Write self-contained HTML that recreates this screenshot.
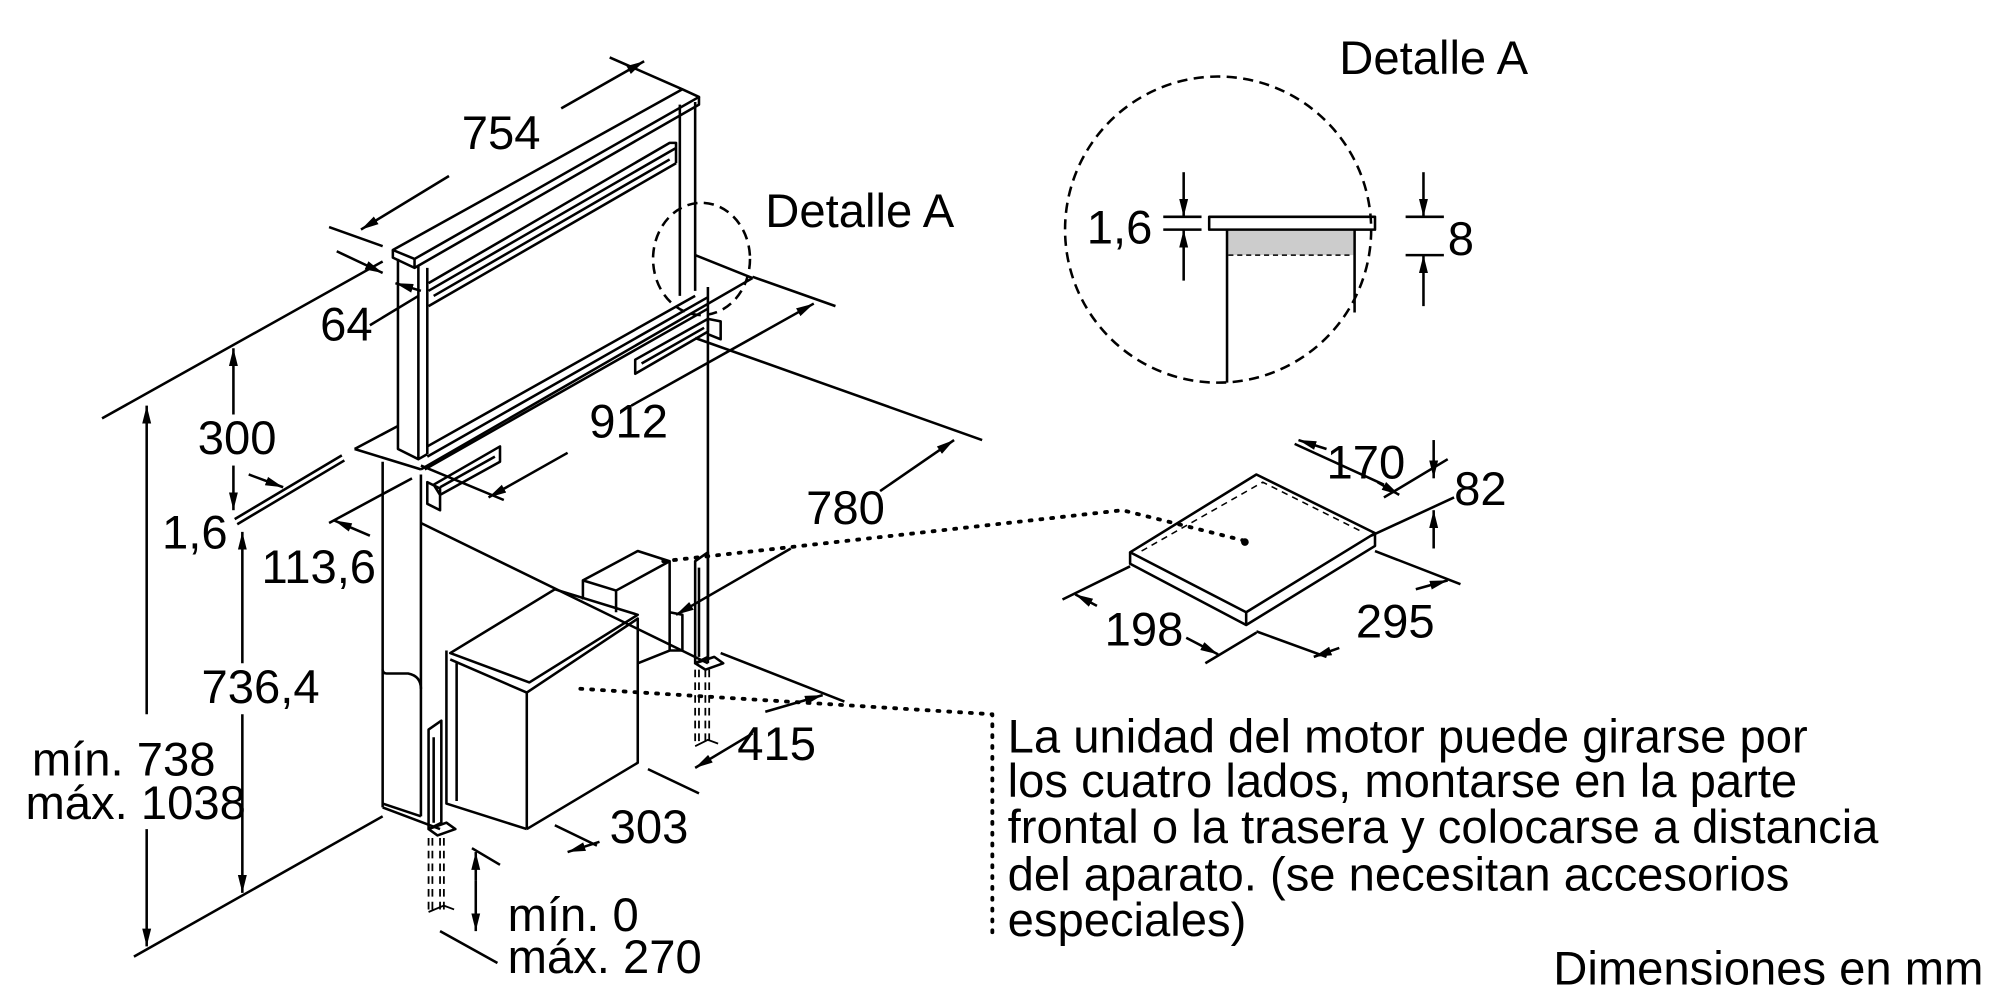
<!DOCTYPE html>
<html><head><meta charset="utf-8"><style>
html,body{margin:0;padding:0;background:#fff;}
svg{display:block}
text{font-family:"Liberation Sans",Arial,sans-serif;fill:#000}
</style></head><body>
<svg width="2000" height="1000" viewBox="0 0 1568 784" preserveAspectRatio="none" xmlns="http://www.w3.org/2000/svg">
<defs>
<marker id="a" viewBox="0 0 14 10" refX="14" refY="5" markerWidth="14" markerHeight="10" orient="auto-start-reverse" markerUnits="userSpaceOnUse"><path d="M0,1.5 L14,5 L0,8.5 z" fill="#000"/></marker>
</defs>
<g fill="none" stroke="#000" stroke-width="2" stroke-linejoin="round">
<!-- top cap -->
<path d="M308,196 L535,70 L548,76 L325,203 Z"/>
<path d="M308,196 L308,202 L325,210 L325,203 M325,210 L548,82 L548,76"/>
<!-- left post -->
<path d="M312,203 L312,352 L328,360 L328,208 M335,210 L335,356 M328,360 L335,356"/>
<!-- right post -->
<path d="M533,82 L533,232 M545,80 L545,228"/>
<!-- inner panel -->
<path d="M336,228 L530,116 M336,240 L530,128 M336,222 L525,112 L530,112 L530,128 M340,232 L525,125"/>
<!-- lower front strip -->
<path d="M335,350 L545,232 M335,358 L555,233 M333,368 L555,242"/>
<!-- countertop plate -->
<path d="M278,352 L312,334 M278,352 L330,368 M330,368 L590,218 M545,200 L590,218"/>
<!-- cabinet body -->
<path d="M300,362 L300,633 M330,372 L330,640 M555,225 L555,520 M330,410 L555,520 M300,633 L345,650"/>
<path d="M300,525 Q300,528 303,528 L320,528 Q330,530 330,540 M300,630 L330,640"/>
<!-- brackets upper -->
<path d="M498,282 L555,250 L555,260 L498,293 Z M503,285 L552,257"/>
<path d="M555,250 L565,252 L565,266 L555,262"/>
<path d="M340,380 L392,350 L392,362 L345,388 Z M345,382 L388,358 M335,378 L345,383 L345,400 L335,395 Z"/>
<!-- duct/back box -->
<path d="M457,455 L500,432 L525,440 L483,463 Z M525,440 L525,510 L500,520 M457,455 L457,470 M483,463 L483,480 M525,480 L535,482 L535,510 L525,510"/>
<!-- motor box -->
<path d="M353,512 L435,462 L500,482 L415,535 Z"/>
<path d="M350,510 L350,630 L413,650 M353,517 L413,543 L413,650 M358,520 L358,628 M413,543 L500,485 L500,598 L413,650"/>
<!-- vertical brackets -->
<path d="M545,440 L555,433 L555,515 L545,520 Z M548,445 L548,515 M545,520 L560,515 L567,520 L553,525 Z"/>
<path d="M336,572 L346,565 L346,645 L336,650 Z M340,578 L340,645 M336,650 L350,645 L357,650 L343,655 Z"/>
<path d="M545,525 L545,585 M548,525 L548,585 M553,525 L553,585 M556,525 L556,585 M336,657 L336,715 M339,657 L339,715 M345,657 L345,715 M348,657 L348,715" stroke-dasharray="6,4" stroke-width="1.4"/>
<path d="M545,585 L555,580 L563,583 M336,715 L348,710 L356,713" stroke-width="1.4"/>
<!-- Detalle A circle on main -->
<ellipse cx="550" cy="203" rx="38" ry="44" stroke-dasharray="8,5"/>
<!-- dimension 754 -->
<path d="M478,45 L535,70 M258,178 L300,193"/>
<path d="M440,85 L505,48" marker-end="url(#a)"/>
<path d="M352,138 L283,180" marker-end="url(#a)"/>
<!-- dim 64 -->
<path d="M264,197 L300,214" marker-end="url(#a)"/>
<path d="M330,228 L310,222" marker-end="url(#a)"/>
<path d="M80,328 L300,205 M290,255 L328,232"/>
<!-- dims left -->
<path d="M183,325 L183,273" marker-end="url(#a)"/>
<path d="M183,365 L183,400" marker-end="url(#a)"/>
<path d="M115,560 L115,318" marker-end="url(#a)"/>
<path d="M115,650 L115,742" marker-end="url(#a)"/>
<path d="M190,520 L190,417" marker-end="url(#a)"/>
<path d="M190,560 L190,700" marker-end="url(#a)"/>
<path d="M195,372 L222,382" marker-end="url(#a)"/>
<path d="M184,407 L268,357 M186,411 L270,361"/>
<path d="M258,410 L323,375"/>
<path d="M290,420 L262,408" marker-end="url(#a)"/>
<path d="M105,750 L300,640"/>
<!-- 912 -->
<path d="M445,355 L383,390" marker-end="url(#a)"/>
<path d="M495,318 L638,238" marker-end="url(#a)"/>
<path d="M590,217 L655,240 M330,365 L395,392"/>
<!-- 780 -->
<path d="M545,265 L770,345"/>
<path d="M690,385 L748,345" marker-end="url(#a)"/>
<path d="M620,430 L530,482" marker-end="url(#a)"/>
<!-- 415 / 303 -->
<path d="M565,512 L662,550"/>
<path d="M590,575 L545,602" marker-end="url(#a)"/>
<path d="M600,558 L645,545" marker-end="url(#a)"/>
<path d="M508,603 L548,622"/>
<path d="M470,660 L445,668" marker-end="url(#a)"/>
<path d="M435,647 L468,663 M370,665 L392,678 M345,730 L390,755"/>
<path d="M373,690 L373,730" marker-end="url(#a)"/>
<path d="M373,690 L373,668" marker-end="url(#a)"/>
<!-- dotted lines -->
<path d="M455,540 L778,560 L778,735" stroke-dasharray="1.5,7" stroke-width="3" stroke-linecap="round"/>
<path d="M520,440 L880,400 L976,424" stroke-dasharray="1.5,7" stroke-width="3" stroke-linecap="round"/>
<!-- Detail A big -->
<circle cx="955" cy="180" r="120" stroke-dasharray="8,5"/>
<rect x="963" y="181" width="98" height="19" fill="#ccc" stroke="none"/>
<path d="M963,200 L1061,200" stroke-dasharray="4,3" stroke-width="1.2"/>
<path d="M948,170 L1078,170 L1078,180 L948,180 Z M962,180 L962,300 M1062,180 L1062,245"/>
<path d="M912,170 L942,170 M912,180 L942,180 M1102,170 L1132,170 M1102,200 L1132,200"/>
<path d="M928,135 L928,170" marker-end="url(#a)"/>
<path d="M928,220 L928,180" marker-end="url(#a)"/>
<path d="M1116,135 L1116,170" marker-end="url(#a)"/>
<path d="M1116,240 L1116,200" marker-end="url(#a)"/>
<!-- filter box -->
<path d="M886,433 L985,372 L1078,418 L977,480 Z M886,433 L886,442 L977,490 L1078,428 L1078,418 M977,480 L977,490"/>
<path d="M895,432 L990,378 L1068,417" stroke-dasharray="5,4" stroke-width="1.2"/>
<path d="M1015,348 L1085,380 M1085,390 L1135,360 M1075,420 L1140,390"/>
<path d="M1040,352 L1018,345" marker-end="url(#a)"/>
<path d="M1080,378 L1097,388" marker-end="url(#a)"/>
<path d="M1124,345 L1124,375" marker-end="url(#a)"/>
<path d="M1124,430 L1124,400" marker-end="url(#a)"/>
<path d="M833,470 L886,444 M945,520 L985,496 M985,495 L1040,515 M1078,432 L1145,458"/>
<path d="M860,475 L843,466" marker-end="url(#a)"/>
<path d="M930,500 L955,513" marker-end="url(#a)"/>
<path d="M1050,508 L1030,515" marker-end="url(#a)"/>
<path d="M1110,462 L1135,455" marker-end="url(#a)"/>
</g>
<circle cx="976" cy="425" r="3" fill="#000"/>
<g font-size="37">
<text x="362" y="117">754</text>
<text x="600" y="178">Detalle A</text>
<text x="251" y="267">64</text>
<text x="155" y="356">300</text>
<text x="127" y="430">1,6</text>
<text x="205" y="457">113,6</text>
<text x="462" y="343">912</text>
<text x="632" y="411">780</text>
<text x="158" y="551">736,4</text>
<text x="25" y="608">mín. 738</text>
<text x="20" y="642">máx. 1038</text>
<text x="578" y="596">415</text>
<text x="478" y="661">303</text>
<text x="398" y="730">mín. 0</text>
<text x="398" y="763">máx. 270</text>
<text x="1050" y="58">Detalle A</text>
<text x="852" y="191">1,6</text>
<text x="1135" y="200">8</text>
<text x="1040" y="375">170</text>
<text x="1140" y="396">82</text>
<text x="866" y="506">198</text>
<text x="1063" y="500">295</text>
<text x="790" y="590">La unidad del motor puede girarse por</text>
<text x="790" y="625">los cuatro lados, montarse en la parte</text>
<text x="790" y="661">frontal o la trasera y colocarse a distancia</text>
<text x="790" y="698">del aparato. (se necesitan accesorios</text>
<text x="790" y="734">especiales)</text>
<text x="1555" y="772" text-anchor="end">Dimensiones en mm</text>
</g>
</svg>
</body></html>
